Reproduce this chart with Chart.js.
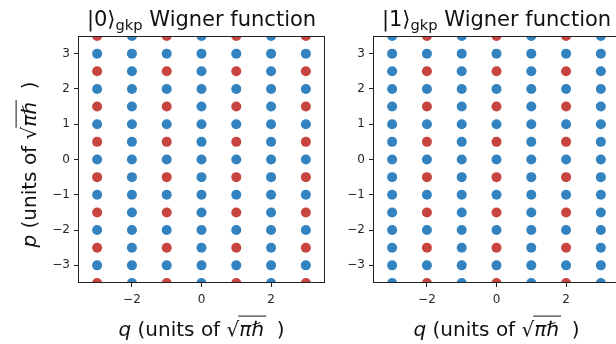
<!DOCTYPE html>
<html>
<head>
<meta charset="utf-8">
<script src="https://cdn.jsdelivr.net/npm/chart.js@4.4.0/dist/chart.umd.min.js"></script>
<style>
  html, body { margin: 0; padding: 0; background: #fff; overflow: hidden; width: 616px; height: 344px; }
  canvas { position: absolute; top: 0; }
  #gkp0 { left: 0; }
  #gkp1 { left: 295px; }
</style>
</head>
<body>
<canvas id="gkp0" width="340" height="344"></canvas>
<canvas id="gkp1" width="340" height="344"></canvas>
<script>
// lattice positions, in units of sqrt(pi*hbar)
var qVals = [-3, -2, -1, 0, 1, 2, 3];
var pVals = [3.5, 3, 2.5, 2, 1.5, 1, 0.5, 0, -0.5, -1, -1.5, -2, -2.5, -3, -3.5];
var xTicks = [-2, 0, 2];
var yTicks = [-3, -2, -1, 0, 1, 2, 3];

// sign of each delta peak, one row per p value (top row first), one column per q
var sign0 = [
  [-1, 1, -1, 1, -1, 1, -1],
  [ 1, 1,  1, 1,  1, 1,  1],
  [-1, 1, -1, 1, -1, 1, -1],
  [ 1, 1,  1, 1,  1, 1,  1],
  [-1, 1, -1, 1, -1, 1, -1],
  [ 1, 1,  1, 1,  1, 1,  1],
  [-1, 1, -1, 1, -1, 1, -1],
  [ 1, 1,  1, 1,  1, 1,  1],
  [-1, 1, -1, 1, -1, 1, -1],
  [ 1, 1,  1, 1,  1, 1,  1],
  [-1, 1, -1, 1, -1, 1, -1],
  [ 1, 1,  1, 1,  1, 1,  1],
  [-1, 1, -1, 1, -1, 1, -1],
  [ 1, 1,  1, 1,  1, 1,  1],
  [-1, 1, -1, 1, -1, 1, -1]
];
var sign1 = [
  [1, -1, 1, -1, 1, -1, 1],
  [1,  1, 1,  1, 1,  1, 1],
  [1, -1, 1, -1, 1, -1, 1],
  [1,  1, 1,  1, 1,  1, 1],
  [1, -1, 1, -1, 1, -1, 1],
  [1,  1, 1,  1, 1,  1, 1],
  [1, -1, 1, -1, 1, -1, 1],
  [1,  1, 1,  1, 1,  1, 1],
  [1, -1, 1, -1, 1, -1, 1],
  [1,  1, 1,  1, 1,  1, 1],
  [1, -1, 1, -1, 1, -1, 1],
  [1,  1, 1,  1, 1,  1, 1],
  [1, -1, 1, -1, 1, -1, 1],
  [1,  1, 1,  1, 1,  1, 1],
  [1, -1, 1, -1, 1, -1, 1]
];

var BLUE = '#3383c0';
var RED = '#c8453f';
var INK = '#222';
var FONT = '"DejaVu Sans", sans-serif';

function lattice(sign) {
  var pts = [];
  for (var i = 0; i < pVals.length; i++) {
    for (var j = 0; j < qVals.length; j++) {
      pts.push({ x: qVals[j], y: pVals[i], s: sign[i][j] });
    }
  }
  return pts;
}

function fmt(v) {
  return v < 0 ? '\u2212' + Math.abs(v) : String(v);
}

// writes "q (units of sqrt(pi hbar) )" centred on (0,0) of the current transform
function unitsLabel(ctx, sym) {
  var size = 20;
  var reg = size + 'px ' + FONT, ita = 'italic ' + size + 'px ' + FONT;
  var parts = [
    { t: sym, f: ita },
    { t: ' (units of ', f: reg },
    { t: '\u221A', f: reg },
    { t: '\u03C0\u210F', f: ita, bar: true },
    { t: '  )', f: reg }
  ];
  var total = 0;
  parts.forEach(function (p) { ctx.font = p.f; p.w = ctx.measureText(p.t).width; total += p.w; });
  var x = -total / 2;
  ctx.textAlign = 'left';
  ctx.textBaseline = 'alphabetic';
  parts.forEach(function (p) {
    ctx.font = p.f;
    ctx.fillText(p.t, x, 0);
    if (p.bar) {
      ctx.fillRect(x - 1, -size * 1.02, p.w + 3, 1);
    }
    x += p.w;
  });
}

function drawTitle(ctx, ket, cx, base) {
  var big = '21px ' + FONT, small = '14.7px ' + FONT;
  ctx.font = big; var w1 = ctx.measureText(ket).width;
  ctx.font = small; var w2 = ctx.measureText('gkp').width;
  ctx.font = big; var w3 = ctx.measureText(' Wigner function').width;
  var x = cx - (w1 + w2 + w3) / 2;
  ctx.textAlign = 'left';
  ctx.textBaseline = 'alphabetic';
  ctx.font = big; ctx.fillText(ket, x, base);
  ctx.font = small; ctx.fillText('gkp', x + w1, base + 3.5);
  ctx.font = big; ctx.fillText(' Wigner function', x + w1 + w2, base);
}

var decor = {
  id: 'decor',
  afterDraw: function (chart, args, opts) {
    var ctx = chart.ctx, a = chart.chartArea;
    ctx.save();
    ctx.strokeStyle = INK;
    ctx.lineWidth = 1;
    ctx.strokeRect(Math.round(a.left) + 0.5, Math.round(a.top) + 0.5,
      Math.round(a.right - a.left) - 1, Math.round(a.bottom - a.top) - 1);
    ctx.fillStyle = '#111';
    var cx = (a.left + a.right) / 2;
    drawTitle(ctx, opts.ket, cx, 26);
    ctx.save();
    ctx.translate(cx, 336);
    unitsLabel(ctx, 'q');
    ctx.restore();
    if (opts.ylabel) {
      ctx.save();
      ctx.translate(36, (a.top + a.bottom) / 2 + 5);
      ctx.rotate(-Math.PI / 2);
      unitsLabel(ctx, 'p');
      ctx.restore();
    }
    ctx.restore();
  }
};

function axis(min, max, ticks, horizontal) {
  return {
    type: 'linear',
    min: min,
    max: max,
    afterBuildTicks: function (s) { s.ticks = ticks.map(function (v) { return { value: v }; }); },
    afterFit: function (s) { if (horizontal) s.height = 28; else s.width = 40; },
    grid: { display: true, drawOnChartArea: false, drawTicks: true, tickLength: 4, tickColor: INK, tickWidth: 1 },
    border: { display: false },
    ticks: {
      font: { family: 'DejaVu Sans', size: 12 }, color: '#262626',
      padding: horizontal ? 6 : 4, maxRotation: 0, callback: fmt
    }
  };
}

function panel(id, sign, ket, ylabel) {
  return new Chart(document.getElementById(id), {
    type: 'scatter',
    data: {
      datasets: [{
        data: lattice(sign),
        pointRadius: 5,
        pointHoverRadius: 5,
        pointBorderWidth: 0,
        pointBackgroundColor: function (c) { return c.raw && c.raw.s < 0 ? RED : BLUE; },
        clip: 0
      }]
    },
    options: {
      responsive: false,
      animation: false,
      events: [],
      layout: { padding: { left: 38, right: 15, top: 36, bottom: 33 } },
      plugins: {
        legend: { display: false },
        tooltip: { enabled: false },
        decor: { ket: ket, ylabel: ylabel }
      },
      scales: {
        x: axis(-3.55, 3.55, xTicks, true),
        y: axis(-3.5, 3.5, yTicks, false)
      }
    },
    plugins: [decor]
  });
}

panel('gkp0', sign0, '|0\u27E9', true);
panel('gkp1', sign1, '|1\u27E9', false);
</script>
</body>
</html>
